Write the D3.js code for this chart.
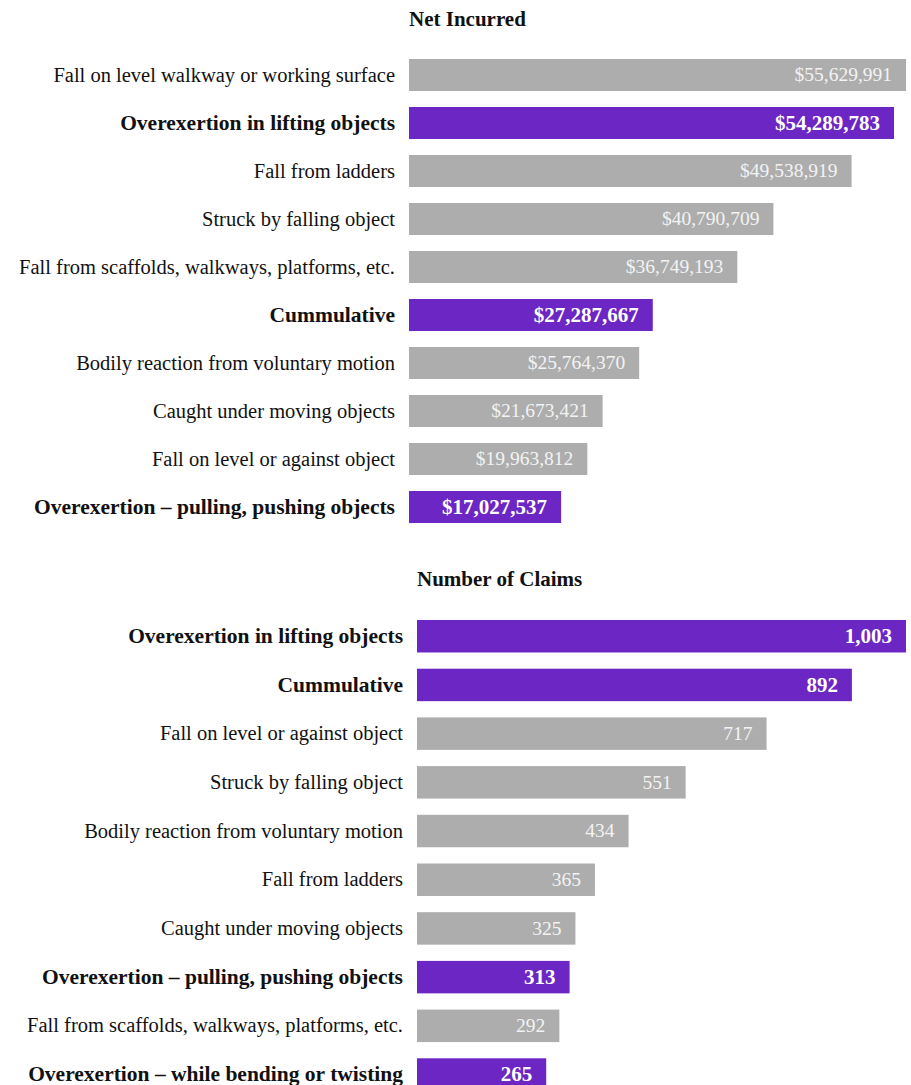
<!DOCTYPE html>
<html>
<head>
<meta charset="utf-8">
<script src="https://cdn.jsdelivr.net/npm/d3@7"></script>
<style>
  html, body { margin: 0; padding: 0; background: #fff; }
  svg { display: block; }
  text { font-family: "Liberation Serif", "DejaVu Serif", serif; }
</style>
</head>
<body>
<svg id="chart" width="911" height="1085"></svg>
<script>
// Net incurred losses by cause of injury
const netCategories = [
  "Fall on level walkway or working surface",
  "Overexertion in lifting objects",
  "Fall from ladders",
  "Struck by falling object",
  "Fall from scaffolds, walkways, platforms, etc.",
  "Cummulative",
  "Bodily reaction from voluntary motion",
  "Caught under moving objects",
  "Fall on level or against object",
  "Overexertion \u2013 pulling, pushing objects"
];
const netValues = [55629991, 54289783, 49538919, 40790709, 36749193, 27287667, 25764370, 21673421, 19963812, 17027537];

// Number of claims by cause of injury
const claimCategories = [
  "Overexertion in lifting objects",
  "Cummulative",
  "Fall on level or against object",
  "Struck by falling object",
  "Bodily reaction from voluntary motion",
  "Fall from ladders",
  "Caught under moving objects",
  "Overexertion \u2013 pulling, pushing objects",
  "Fall from scaffolds, walkways, platforms, etc.",
  "Overexertion \u2013 while bending or twisting"
];
const claimValues = [1003, 892, 717, 551, 434, 365, 325, 313, 292, 265];

// Causes drawn in the accent colour
const highlighted = [
  "Overexertion in lifting objects",
  "Cummulative",
  "Overexertion \u2013 pulling, pushing objects",
  "Overexertion \u2013 while bending or twisting"
];

const purple = "#6c26c3";
const grey = "#adadad";

const svg = d3.select("#chart");

function drawPanel(opts) {
  const { title, categories, values, format, x0, x1, y0, step, titleY } = opts;
  const data = categories.map((c, i) => ({ cat: c, value: values[i], hi: highlighted.includes(c) }));

  const x = d3.scaleLinear().domain([0, d3.max(values)]).range([x0, x1]);
  const y = d3.scaleBand()
    .domain(categories)
    .range([y0 - step / 6, y0 - step / 6 + step * categories.length])
    .paddingInner(1 / 3)
    .paddingOuter(1 / 6);

  const g = svg.append("g");

  g.append("text")
    .attr("x", x0)
    .attr("y", titleY)
    .attr("font-size", 21)
    .attr("font-weight", "bold")
    .attr("fill", "#111")
    .text(title);

  const row = g.selectAll("g.row").data(data).join("g").attr("class", "row");

  row.append("rect")
    .attr("x", x(0))
    .attr("y", d => y(d.cat))
    .attr("width", d => x(d.value) - x(0))
    .attr("height", y.bandwidth())
    .attr("fill", d => d.hi ? purple : grey);

  row.append("text")
    .attr("x", x(0) - 14)
    .attr("y", d => y(d.cat) + y.bandwidth() / 2)
    .attr("dy", "0.32em")
    .attr("text-anchor", "end")
    .attr("font-size", d => d.hi ? 21.5 : 20.5)
    .attr("font-weight", d => d.hi ? "bold" : "normal")
    .attr("fill", "#111")
    .text(d => d.cat);

  row.append("text")
    .attr("x", d => x(d.value) - 14)
    .attr("y", d => y(d.cat) + y.bandwidth() / 2)
    .attr("dy", "0.32em")
    .attr("text-anchor", "end")
    .attr("font-size", d => d.hi ? 21 : 19.5)
    .attr("font-weight", d => d.hi ? "bold" : "normal")
    .attr("fill", d => d.hi ? "#ffffff" : "#f3f3f3")
    .text(d => format(d.value));
}

drawPanel({
  title: "Net Incurred",
  categories: netCategories,
  values: netValues,
  format: v => "$" + d3.format(",")(v),
  x0: 409, x1: 906,
  y0: 59, step: 48,
  titleY: 26
});

drawPanel({
  title: "Number of Claims",
  categories: claimCategories,
  values: claimValues,
  format: d3.format(","),
  x0: 417, x1: 906,
  y0: 620, step: 48.7,
  titleY: 586
});
</script>
</body>
</html>
